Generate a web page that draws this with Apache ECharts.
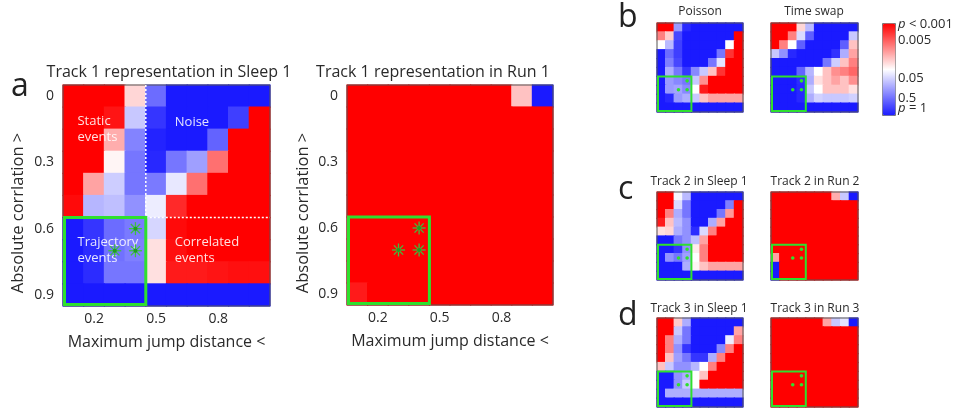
<!DOCTYPE html>
<html>
<head>
<meta charset="UTF-8">
<title>Replay significance maps</title>
<script src="https://cdn.jsdelivr.net/npm/echarts@6.0.0/dist/echarts.min.js"></script>
<style>
  html, body { margin: 0; padding: 0; background: #fff; }
  #chart { width: 968px; height: 413px; }
</style>
</head>
<body>
<div id="chart"></div>
<script>
// axis categories (column = max jump distance, row = absolute correlation)
const xCats = ['0.1', '0.2', '0.3', '0.4', '0.5', '0.6', '0.7', '0.8', '0.9', '1.0'];
const yCats = ['0', '0.1', '0.2', '0.3', '0.4', '0.5', '0.6', '0.7', '0.8', '0.9'];
const xTickLabels = ['0.2', '0.5', '0.8'];
const yTickLabels = ['0', '0.3', '0.6', '0.9'];

// colour level per cell: 0 = p = 1 (blue), 5 = p ~ 0.05 (white), 10 = p < 0.001 (red)
const sleep1Track1 = [
  [10, 10, 10, 5.8, 1.8, 0, 0, 0, 0, 0],
  [10, 10, 9.6, 3.8, 0.6, 0, 0, 0, 0.8, 10],
  [10, 10, 6.6, 2.3, 0.2, 0, 0, 1.6, 10, 10],
  [10, 10, 5.2, 2.0, 0.3, 2.0, 2.9, 7.8, 10, 10],
  [10, 6.8, 3.9, 2.0, 2.1, 4.5, 7.8, 10, 10, 10],
  [9.8, 3.4, 3.6, 2.6, 4.6, 9.2, 10, 10, 10, 10],
  [0, 0.6, 1.8, 2.1, 4.1, 9.8, 10, 10, 10, 10],
  [0, 0.4, 1.9, 2.2, 5.6, 9.7, 10, 10, 10, 10],
  [0, 0.4, 2.0, 2.0, 5.6, 9.5, 9.5, 9.6, 9.7, 9.7],
  [0, 0, 0, 0, 0, 0, 0, 0, 0, 0]
];
const run1Track1 = [
  [10, 10, 10, 10, 10, 10, 10, 10, 6.2, 0],
  [10, 10, 10, 10, 10, 10, 10, 10, 10, 10],
  [10, 10, 10, 10, 10, 10, 10, 10, 10, 10],
  [10, 10, 10, 10, 10, 10, 10, 10, 10, 10],
  [10, 10, 10, 10, 10, 10, 10, 10, 10, 10],
  [10, 10, 10, 10, 10, 10, 10, 10, 10, 10],
  [10, 10, 10, 10, 10, 10, 10, 10, 10, 10],
  [10, 10, 10, 10, 10, 10, 10, 10, 10, 10],
  [10, 10, 10, 10, 10, 10, 10, 10, 10, 10],
  [9.5, 10, 10, 10, 10, 10, 10, 10, 10, 10]
];
const poissonShuffle = [
  [10, 10, 2.8, 0.3, 0, 0, 0, 0, 0, 0],
  [7.5, 6, 1, 0, 0, 0, 0, 0, 0, 10],
  [5, 3.5, 0.8, 0, 0, 0, 0, 0, 5, 10],
  [0, 1.8, 0.8, 0, 0, 0, 0, 2, 9, 10],
  [0, 2.2, 1, 0, 0, 0, 2, 4.4, 10, 10],
  [0, 3.2, 2, 0.6, 2.4, 3.8, 6.2, 9, 10, 10],
  [0, 2.8, 2.4, 2, 3.8, 7.2, 10, 10, 10, 10],
  [0, 2.8, 3, 2.4, 5, 9.5, 10, 10, 10, 10],
  [0, 0.3, 2.8, 3.2, 3.8, 6.2, 6.8, 6.8, 6.8, 6.8],
  [0, 0, 0, 0, 0, 0, 0, 0, 0, 0]
];
const timeSwapShuffle = [
  [10, 10, 10, 5.8, 3.5, 0, 0, 0, 0, 0],
  [10, 10, 7.5, 4.2, 1.5, 0, 0, 0, 0, 3.8],
  [10, 7.5, 5, 1.5, 0, 0, 0, 0, 1.5, 6.2],
  [3.8, 2.6, 0.3, 0, 0, 0, 0, 0.5, 3.2, 6.8],
  [0, 0, 0, 0, 0, 0, 2, 3.9, 6.2, 7.5],
  [0, 0, 0, 1.6, 3.4, 5, 6.2, 7.2, 7.5, 8],
  [0, 0, 0, 0.4, 3.2, 5.6, 6.2, 6.8, 6.2, 7.2],
  [0, 0, 0, 0.3, 3.8, 5, 6.2, 6.2, 6.2, 5.6],
  [0, 0, 0, 0.3, 3.2, 4, 3.8, 3.8, 3.8, 4],
  [0, 0, 0, 0, 0, 0, 0, 0, 0, 0]
];
const sleep1Track2 = [
  [10, 10, 4.8, 3.5, 0, 0, 0, 0, 0, 0],
  [10, 10, 4.2, 2, 0, 0, 0, 0, 2.2, 10],
  [10, 7.5, 3.2, 2, 0, 0, 0, 2, 7, 10],
  [9.5, 6.2, 3.5, 2.6, 0, 0, 3.2, 6.8, 10, 10],
  [5.6, 5.8, 3.2, 2.6, 0.4, 4.2, 7.5, 10, 10, 10],
  [0, 0, 2, 2.6, 3.6, 6.8, 10, 10, 10, 10],
  [0, 0, 0.6, 2.6, 5.4, 7.5, 10, 10, 10, 10],
  [0, 2.6, 2, 2.9, 5, 7.5, 10, 10, 10, 10],
  [0, 0, 0, 3.2, 5.2, 6.2, 6.8, 6.8, 6.8, 6.8],
  [0, 0, 0, 0, 0, 0, 0, 0, 0, 0]
];
const run2Track2 = [
  [10, 10, 10, 10, 10, 10, 10, 6.6, 3.8, 0],
  [10, 10, 10, 10, 10, 10, 10, 10, 10, 10],
  [10, 10, 10, 10, 10, 10, 10, 10, 10, 10],
  [10, 10, 10, 10, 10, 10, 10, 10, 10, 10],
  [10, 10, 10, 10, 10, 10, 10, 10, 10, 10],
  [10, 10, 10, 10, 10, 10, 10, 10, 10, 10],
  [10, 10, 10, 10, 10, 10, 10, 10, 10, 10],
  [6.8, 10, 10, 10, 10, 10, 10, 10, 10, 10],
  [0, 10, 10, 10, 10, 10, 10, 10, 10, 10],
  [0, 10, 10, 10, 10, 10, 10, 10, 10, 10]
];
const sleep1Track3 = [
  [10, 10, 6, 3.2, 0, 0, 0, 0, 0, 0],
  [10, 10, 3.8, 2, 0, 0, 0, 0, 0, 6.8],
  [10, 7.5, 3.2, 2, 0, 0, 0, 0, 4.6, 7.5],
  [10, 7.5, 2.6, 0.6, 0, 0, 0, 2.4, 7.5, 10],
  [10, 6.2, 2.9, 2, 0.6, 0.6, 3.2, 7.5, 10, 10],
  [6.2, 3.8, 2.6, 2.6, 3.4, 5, 7.5, 10, 10, 10],
  [0, 0, 2.6, 3.2, 5, 6.2, 10, 10, 10, 10],
  [0, 0, 2.6, 3.8, 5, 10, 10, 10, 10, 10],
  [0, 3.2, 3.2, 3.2, 3.2, 3.2, 3.2, 3.2, 3.2, 3.2],
  [0, 0, 0, 0, 0, 0, 0, 0, 0, 0]
];
const run3Track3 = [
  [10, 10, 10, 10, 10, 10, 6.8, 3.8, 4.4, 0],
  [10, 10, 10, 10, 10, 10, 10, 10, 10, 10],
  [10, 10, 10, 10, 10, 10, 10, 10, 10, 10],
  [10, 10, 10, 10, 10, 10, 10, 10, 10, 10],
  [10, 10, 10, 10, 10, 10, 10, 10, 10, 10],
  [10, 10, 10, 10, 10, 10, 10, 10, 10, 10],
  [10, 10, 10, 10, 10, 10, 10, 10, 10, 10],
  [10, 10, 10, 10, 10, 10, 10, 10, 10, 10],
  [10, 10, 10, 10, 10, 10, 10, 10, 10, 10],
  [10, 10, 10, 10, 10, 10, 10, 10, 10, 10]
];

// trajectory-event window (cells inside the green box) and the three starred cells
const boxX = ['0.1', '0.4'];
const boxY = ['0.6', '0.9'];
const starCells = [['0.4', '0.6'], ['0.3', '0.7'], ['0.4', '0.7']];
// dotted split lines of panel a (after these categories)
const splitX = '0.4';
const splitY = '0.5';
// region notes on panel a: text, left edge (jump distance), centre (correlation)
const noteTexts = ['Static\nevents', 'Noise', 'Trajectory\nevents', 'Correlated\nevents'];
const noteX = [0.12, 0.59, 0.12, 0.59];
const noteY = [0.15, 0.12, 0.70, 0.70];
// colour bar labels
const cbLabels = ['{i|p} < 0.001', '0.005', '0.05', '0.5', '{i|p} = 1'];
const xName = 'Maximum jump distance <';
const yName = 'Absolute corrlation >';

const FONT = 'Open Sans, Noto Sans, sans-serif';
const INK = '#2a2a2a';
const GREEN = '#2ee02e';

const panels = [
  { values: sleep1Track1, left: 63, top: 85, width: 207, height: 221, big: true, notes: true,
    title: 'Track 1 representation in Sleep 1', tx: 169, ty: 64, nameX: 18 },
  { values: run1Track1, left: 347, top: 85, width: 206, height: 220, big: true,
    title: 'Track 1 representation in Run 1', tx: 433, ty: 64, nameX: 303 },
  { values: poissonShuffle, left: 657, top: 23, width: 86, height: 89, title: 'Poisson', tx: 700, ty: 6 },
  { values: timeSwapShuffle, left: 771, top: 23, width: 87, height: 89, title: 'Time swap', tx: 814, ty: 6 },
  { values: sleep1Track2, left: 657, top: 192, width: 86, height: 88, title: 'Track 2 in Sleep 1', tx: 699, ty: 176 },
  { values: run2Track2, left: 771, top: 192, width: 87, height: 88, title: 'Track 2 in Run 2', tx: 815, ty: 176 },
  { values: sleep1Track3, left: 657, top: 318, width: 86, height: 89, title: 'Track 3 in Sleep 1', tx: 699, ty: 303 },
  { values: run3Track3, left: 771, top: 318, width: 87, height: 89, title: 'Track 3 in Run 3', tx: 815, ty: 303 }
];

function toCells(rows) {
  const out = [];
  rows.forEach((row, r) => row.forEach((v, c) => out.push([c, r, v])));
  return out;
}

// one heat cell, sized from the category band, coloured by the visualMap
function renderCell(params, api) {
  const ctr = api.coord([api.value(0), api.value(1)]);
  const sz = api.size([1, 1]);
  return {
    type: 'rect',
    shape: { x: ctr[0] - sz[0] / 2 - 0.6, y: ctr[1] - sz[1] / 2 - 0.6, width: sz[0] + 1.2, height: sz[1] + 1.2 },
    style: { fill: api.visual('color') }
  };
}

function overlay(panel) {
  return function (params, api) {
    const cs = params.coordSys;
    const cw = cs.width / xCats.length;
    const ch = cs.height / yCats.length;
    const px = i => cs.x + i * cw;
    const py = j => cs.y + j * ch;
    const kids = [];
    kids.push({ type: 'rect', shape: { x: cs.x, y: cs.y, width: cs.width, height: cs.height },
      style: { fill: 'none', stroke: '#555', lineWidth: 1 } });
    if (panel.notes) {
      const sx = px(xCats.indexOf(splitX) + 1);
      const sy = py(yCats.indexOf(splitY) + 1);
      kids.push({ type: 'line', shape: { x1: sx, y1: cs.y, x2: sx, y2: sy },
        style: { stroke: '#fff', lineWidth: 1.5, lineDash: [2, 2] } });
      kids.push({ type: 'line', shape: { x1: sx, y1: sy, x2: cs.x + cs.width, y2: sy },
        style: { stroke: '#fff', lineWidth: 1.5, lineDash: [2, 2] } });
      noteTexts.forEach((t, k) => {
        kids.push({ type: 'text', style: {
          text: t, x: cs.x + (noteX[k] - 0.05) * cs.width, y: cs.y + (noteY[k] + 0.05) * cs.height,
          fill: 'rgba(255,255,255,0.88)', fontSize: 13, fontFamily: FONT,
          align: 'left', verticalAlign: 'middle', lineHeight: 16 } });
      });
    }
    const bx0 = px(xCats.indexOf(boxX[0]));
    const bx1 = px(xCats.indexOf(boxX[1]) + 1);
    const by0 = py(yCats.indexOf(boxY[0]));
    const by1 = py(yCats.indexOf(boxY[1]) + 1);
    const lw = panel.big ? 3 : 2;
    kids.push({ type: 'rect', shape: { x: bx0 + lw / 2, y: by0, width: bx1 - bx0 - lw / 2, height: by1 - by0 - lw / 2 },
      style: { fill: 'none', stroke: GREEN, lineWidth: lw } });
    starCells.forEach(s => {
      const cx = px(xCats.indexOf(s[0]) + 0.5);
      const cy = py(yCats.indexOf(s[1]) + 0.5);
      if (panel.big) {
        const r = 6.5;
        for (let a = 0; a < 4; a++) {
          const ang = a * Math.PI / 4;
          kids.push({ type: 'line', shape: { x1: cx - r * Math.cos(ang), y1: cy - r * Math.sin(ang),
            x2: cx + r * Math.cos(ang), y2: cy + r * Math.sin(ang) },
            style: { stroke: '#3fbf3f', lineWidth: 1.3 } });
        }
        kids.push({ type: 'circle', shape: { cx: cx, cy: cy, r: 2 }, style: { fill: '#1f9f1f' } });
      } else {
        kids.push({ type: 'circle', shape: { cx: cx, cy: cy, r: 1.8 }, style: { fill: GREEN } });
      }
    });
    return { type: 'group', children: kids };
  };
}

const grid = [], xAxis = [], yAxis = [], series = [], title = [];
const graphic = [];
panels.forEach((p, i) => {
  grid.push({ left: p.left, top: p.top, width: p.width, height: p.height, containLabel: false });
  xAxis.push({
    gridIndex: i, type: 'category', data: xCats, position: 'bottom',
    axisLine: { show: false }, splitLine: { show: false },
    axisTick: { show: p.big, inside: true, length: 3, alignWithLabel: true,
      interval: (idx, v) => xTickLabels.includes(v), lineStyle: { color: '#555' } },
    axisLabel: { show: p.big, interval: (idx, v) => xTickLabels.includes(v),
      color: INK, fontSize: 14, fontFamily: FONT, margin: 6 },
    name: p.big ? xName : '', nameLocation: 'middle', nameGap: 28,
    nameTextStyle: { color: INK, fontSize: 16, fontFamily: FONT }
  });
  yAxis.push({
    gridIndex: i, type: 'category', data: yCats, inverse: true,
    axisLine: { show: false }, splitLine: { show: false },
    axisTick: { show: p.big, inside: true, length: 3, alignWithLabel: true,
      interval: (idx, v) => yTickLabels.includes(v), lineStyle: { color: '#555' } },
    axisLabel: { show: p.big, interval: (idx, v) => yTickLabels.includes(v),
      color: INK, fontSize: 14, fontFamily: FONT, margin: 9 }
  });
  if (p.big) {
    graphic.push({ type: 'text', x: p.nameX, y: 213, rotation: Math.PI / 2,
      style: { text: yName, fill: INK, font: '16.5px ' + FONT, align: 'center', verticalAlign: 'middle' } });
  }
  series.push({
    type: 'custom', xAxisIndex: i, yAxisIndex: i, data: toCells(p.values),
    encode: { x: 0, y: 1 }, renderItem: renderCell, silent: true, clip: false
  });
  title.push({ text: p.title, left: p.tx, top: p.ty, textAlign: 'center', padding: 0,
    textStyle: { color: INK, fontWeight: 'normal', fontSize: p.big ? 16 : 12, fontFamily: FONT } });
});
const heatIdx = series.map((s, i) => i);
panels.forEach((p, i) => {
  series.push({
    type: 'custom', xAxisIndex: i, yAxisIndex: i, data: [[0, 0]], clip: false, silent: true, z: 5,
    renderItem: overlay(p)
  });
});

// panel letters
[['a', 11, 71], ['b', 618, 2], ['c', 618, 174], ['d', 618, 300]].forEach(l => {
  title.push({ text: l[0], left: l[1], top: l[2], padding: 0,
    textStyle: { color: '#222', fontWeight: 'normal', fontSize: 32, fontFamily: FONT } });
});

const cbTop = 23, cbH = 92;
const cbFrac = [0.03, 0.2, 0.62, 0.83, 0.94];
cbLabels.forEach((t, k) => graphic.push({
  type: 'text', left: 898, top: cbTop + cbFrac[k] * cbH - 8,
  style: { text: t, fill: INK, font: '13px ' + FONT,
    rich: { i: { fontStyle: 'italic', fontSize: 13, fontFamily: FONT, fill: INK } } }
}));

const chart = echarts.init(document.getElementById('chart'), null, { renderer: 'canvas' });
chart.setOption({
  animation: false,
  title: title,
  grid: grid,
  xAxis: xAxis,
  yAxis: yAxis,
  visualMap: {
    type: 'continuous', min: 0, max: 10, dimension: 2, seriesIndex: heatIdx, calculable: false,
    left: 882, top: cbTop, itemWidth: 13, itemHeight: cbH, padding: 0, text: null,
    borderColor: '#777', borderWidth: 1,
    inRange: { color: ['#1a1aff', '#ffffff', '#ff0000'] }
  },
  series: series,
  graphic: graphic
});
</script>
</body>
</html>
